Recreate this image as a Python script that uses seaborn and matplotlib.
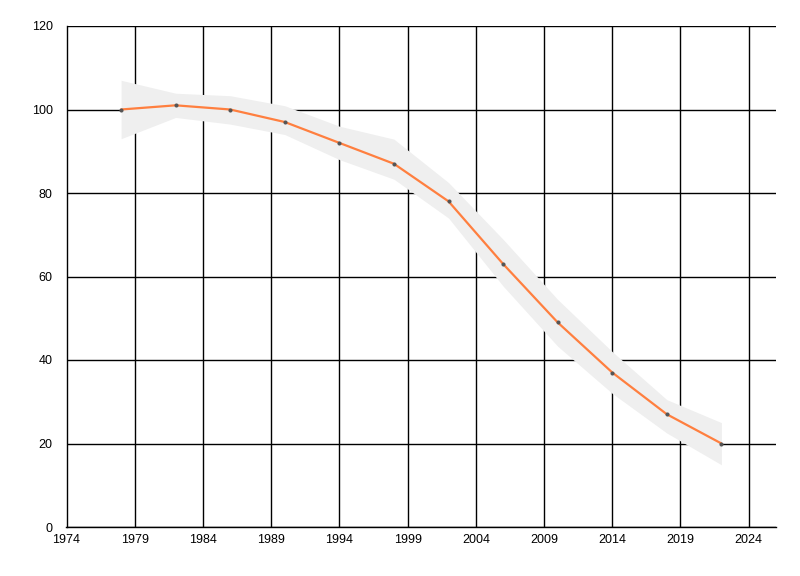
import matplotlib
matplotlib.use("Agg")
import matplotlib.pyplot as plt
import seaborn as sns
import pandas as pd

years = [1978, 1982, 1986, 1990, 1994, 1998, 2002, 2006, 2010, 2014, 2018, 2022]
values = [100, 101, 100, 97, 92, 87, 78, 63, 49, 37, 27, 20]
band_upper = [107, 103.9, 103.3, 100.9, 96, 92.9, 82.5, 68.9, 54.5, 42, 30.5, 25]
band_lower = [93, 98.1, 96.5, 94, 88, 83.3, 74, 57.7, 43.3, 32, 22.5, 14.9]
x_ticks = [1974, 1979, 1984, 1989, 1994, 1999, 2004, 2009, 2014, 2019, 2024]
y_ticks = [0, 20, 40, 60, 80, 100, 120]

df = pd.DataFrame({"year": years, "value": values,
                   "upper": band_upper, "lower": band_lower})

sns.set_style("white")
plt.rcParams["font.family"] = ["Liberation Sans", "DejaVu Sans"]

fig = plt.figure(figsize=(8, 5.76), dpi=100)
ax = fig.add_axes([66.5 / 800, 1 - 527 / 576, (776 - 66.5) / 800, (527 - 26) / 576])

# confidence band behind the line
ax.fill_between(df.year, df.lower, df.upper, color="#efefef", lw=0, zorder=1)
sns.lineplot(data=df, x="year", y="value", ax=ax, color="#ff7f3f", lw=1.6,
             marker="o", markersize=2.2, markerfacecolor="#555555",
             markeredgecolor="#555555", zorder=3)

ax.set_xlim(1974, 2026)
ax.set_ylim(0, 120)
ax.set_xticks(x_ticks)
ax.set_yticks(y_ticks)
ax.grid(True, color="black", lw=1.0)
for line in ax.get_xgridlines() + ax.get_ygridlines():
    line.set_zorder(2)
ax.set_xlabel("")
ax.set_ylabel("")
for s in ["top", "right"]:
    ax.spines[s].set_visible(False)
for s in ["left", "bottom"]:
    ax.spines[s].set_color("black")
    ax.spines[s].set_linewidth(1.0)
ax.tick_params(axis="y", length=8, width=1, color="black", labelcolor="black",
               labelsize=9, pad=2)
ax.tick_params(axis="x", length=4, width=1, color="black", labelcolor="black",
               labelsize=9, pad=1)

fig.savefig("out.png", dpi=100)
